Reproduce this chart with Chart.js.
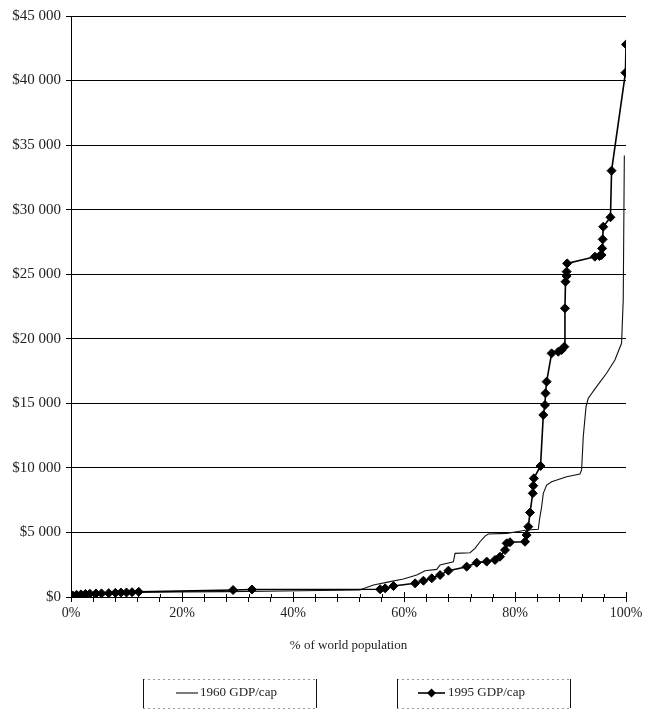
<!DOCTYPE html>
<html>
<head>
<meta charset="utf-8">
<script src="https://cdn.jsdelivr.net/npm/chart.js@4.4.1/dist/chart.umd.min.js"></script>
<style>
  html, body { margin: 0; padding: 0; background: #fff; }
</style>
</head>
<body>
<canvas id="myChart" width="647" height="712"></canvas>
<script>
// cumulative % of world population (x) vs GDP per capita (y)
var pop1960 = [0, 1, 3, 6, 10, 14, 20, 28, 35, 45, 52, 54.5, 57.5, 59.9, 62.3, 63.8, 65.9, 66.5, 68.9, 69.2, 71.9, 72.8, 73.7, 74.6, 75.2, 78.5, 80.3, 82.1, 84.2, 84.4, 84.8, 85.1, 85.7, 86.6, 89.3, 91.7, 92, 92.3, 92.8, 93.2, 94.7, 96.5, 98, 99.2, 99.5, 99.7];
var gdp1960 = [100, 180, 250, 300, 340, 380, 400, 420, 450, 500, 540, 930, 1190, 1390, 1700, 2040, 2140, 2480, 2730, 3380, 3430, 3770, 4280, 4720, 4880, 4930, 5060, 5190, 5240, 5960, 7000, 8030, 8670, 8930, 9320, 9530, 9840, 12420, 14740, 15390, 16290, 17330, 18360, 19650, 23000, 34200];

var pop1995 = [0.3, 1, 1.8, 2.6, 3.4, 4.5, 5.5, 6.8, 8, 9, 10, 11, 12.2, 29.2, 32.6, 55.7, 56.6, 58.1, 62, 63.5, 65, 66.5, 68, 71.3, 73.1, 74.9, 76.4, 77.3, 78.2, 78.5, 79.1, 81.8, 82.1, 82.4, 82.7, 83.2, 83.3, 83.4, 84.6, 85.1, 85.4, 85.5, 85.7, 86.6, 87.8, 88.4, 88.9, 89, 89.1, 89.3, 89.3, 89.4, 94.4, 95.2, 95.6, 95.7, 95.8, 95.9, 97.2, 97.4, 99.9, 100];
var gdp1995 = [120, 170, 200, 230, 250, 270, 280, 300, 320, 340, 350, 370, 400, 540, 580, 600, 670, 850, 1060, 1260, 1450, 1700, 2040, 2350, 2660, 2740, 2870, 3120, 3640, 4160, 4240, 4280, 4800, 5450, 6540, 8030, 8620, 9190, 10150, 14100, 14870, 15780, 16680, 18870, 19000, 19130, 19390, 22360, 24420, 24860, 25200, 25840, 26360, 26410, 26490, 27000, 27700, 28680, 29410, 33020, 40610, 42800];

var seriesLabels = ['1960 GDP/cap', '1995 GDP/cap'];

function toPoints(xs, ys) {
  return xs.map(function(x, i) { return { x: x, y: ys[i] }; });
}

function money(v) {
  return '$' + String(v).replace(/\B(?=(\d{3})+(?!\d))/g, ' ');
}

var FONT = 'Liberation Serif';

// small tick marks poking up above the x axis too
var crossTicks = {
  id: 'crossTicks',
  afterDraw: function(chart) {
    var xs = chart.scales.x, ctx = chart.ctx;
    var y0 = chart.chartArea.bottom;
    ctx.save();
    ctx.strokeStyle = '#000';
    ctx.lineWidth = 1;
    ctx.beginPath();
    xs.ticks.forEach(function(t) {
      var px = Math.round(xs.getPixelForValue(t.value)) + 0.5;
      var len = t.value % 20 === 0 ? 5 : 3;
      ctx.moveTo(px, y0); ctx.lineTo(px, y0 - len);
    });
    ctx.stroke();
    ctx.restore();
  }
};

// boxed legend under the axis title, like the original
var boxLegend = {
  id: 'boxLegend',
  afterDraw: function(chart) {
    var ctx = chart.ctx;
    var boxes = [
      { x: 143, w: 173, sx1: 176, sx2: 198, tx: 200 },
      { x: 397, w: 173, sx1: 418, sx2: 445, tx: 448 }
    ];
    var top = 679, h = 29, cy = 693;
    ctx.save();
    boxes.forEach(function(b, i) {
      var ds = chart.data.datasets[i];
      // faint dotted top / bottom
      ctx.strokeStyle = '#999';
      ctx.lineWidth = 1;
      ctx.setLineDash([2, 3]);
      ctx.beginPath();
      ctx.moveTo(b.x, top + 0.5); ctx.lineTo(b.x + b.w, top + 0.5);
      ctx.moveTo(b.x, top + h + 0.5); ctx.lineTo(b.x + b.w, top + h + 0.5);
      ctx.stroke();
      ctx.setLineDash([]);
      ctx.strokeStyle = '#111';
      ctx.beginPath();
      ctx.moveTo(b.x + 0.5, top); ctx.lineTo(b.x + 0.5, top + h);
      ctx.moveTo(b.x + b.w + 0.5, top); ctx.lineTo(b.x + b.w + 0.5, top + h);
      ctx.stroke();
      // symbol
      ctx.strokeStyle = ds.borderColor;
      ctx.lineWidth = ds.borderWidth;
      ctx.beginPath();
      ctx.moveTo(b.sx1, cy); ctx.lineTo(b.sx2, cy);
      ctx.stroke();
      if (ds.pointRadius > 0) {
        var mx = (b.sx1 + b.sx2) / 2, r = ds.pointRadius;
        ctx.fillStyle = ds.backgroundColor;
        ctx.beginPath();
        ctx.moveTo(mx, cy - r); ctx.lineTo(mx + r, cy);
        ctx.lineTo(mx, cy + r); ctx.lineTo(mx - r, cy);
        ctx.closePath();
        ctx.fill();
      }
      ctx.fillStyle = '#222';
      ctx.font = '13px "' + FONT + '"';
      ctx.textAlign = 'left';
      ctx.textBaseline = 'middle';
      ctx.fillText(ds.label, b.tx, cy);
    });
    ctx.restore();
  }
};

function renderChart() {
  var ctx = document.getElementById('myChart').getContext('2d');
  new Chart(ctx, {
    type: 'scatter',
    data: {
      datasets: [
        {
          label: seriesLabels[0],
          data: toPoints(pop1960, gdp1960),
          showLine: true,
          borderColor: '#111',
          backgroundColor: '#111',
          borderWidth: 1.1,
          pointRadius: 0,
          order: 2
        },
        {
          label: seriesLabels[1],
          data: toPoints(pop1995, gdp1995),
          showLine: true,
          borderColor: '#000',
          backgroundColor: '#000',
          borderWidth: 1.6,
          pointStyle: 'rectRot',
          pointRadius: 4.5,
          pointBorderWidth: 1,
          order: 1
        }
      ]
    },
    options: {
      responsive: false,
      animation: false,
      layout: { padding: { left: 0, right: 21, top: 16, bottom: 55 } },
      plugins: {
        legend: { display: false },
        tooltip: { enabled: false }
      },
      scales: {
        x: {
          type: 'linear',
          min: 0,
          max: 100,
          afterFit: function(scale) { scale.height = 60; },
          ticks: {
            stepSize: 4,
            autoSkip: false,
            maxRotation: 0,
            padding: 3,
            color: '#222',
            font: { family: FONT, size: 14 },
            callback: function(v) { return v % 20 === 0 ? v + '%' : ''; }
          },
          grid: { drawOnChartArea: false, drawTicks: true, tickLength: 5, color: '#000' },
          border: { color: '#000', width: 1 },
          title: {
            display: true,
            text: '% of world population',
            color: '#222',
            font: { family: FONT, size: 13 },
            padding: { top: 4, bottom: 4 }
          }
        },
        y: {
          min: 0,
          max: 45000,
          afterFit: function(scale) { scale.width = 71; },
          ticks: {
            stepSize: 5000,
            padding: 5,
            color: '#222',
            font: { family: FONT, size: 15 },
            callback: function(v) { return money(v); }
          },
          grid: { color: '#000', lineWidth: 1, tickLength: 5 },
          border: { color: '#000', width: 1 }
        }
      }
    },
    plugins: [crossTicks, boxLegend]
  });
}

document.addEventListener('DOMContentLoaded', renderChart);
</script>
</body>
</html>
